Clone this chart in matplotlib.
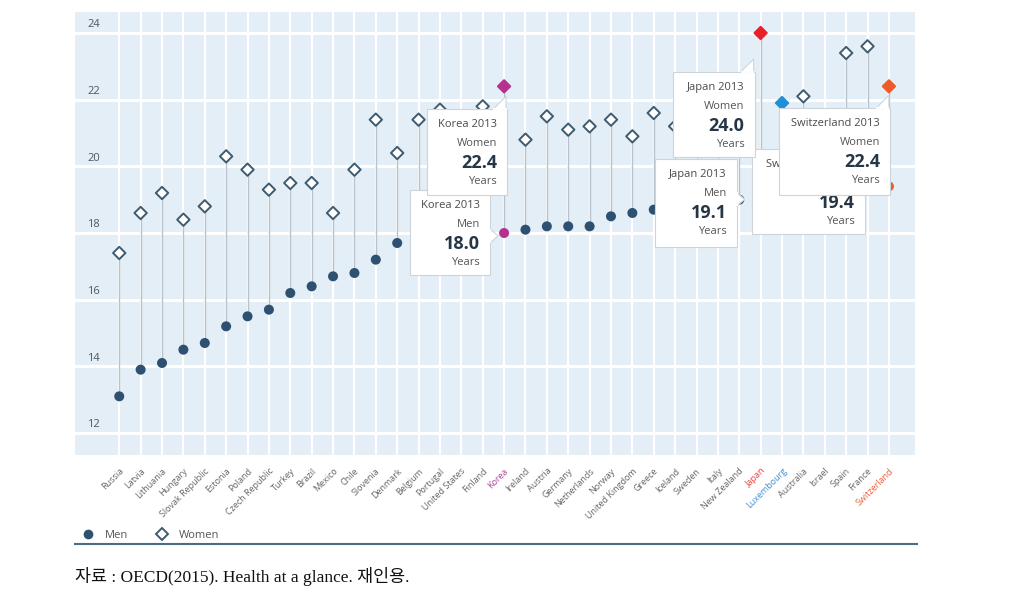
import matplotlib

matplotlib.use("Agg")
import matplotlib.pyplot as plt
from matplotlib.lines import Line2D
from matplotlib.patches import Polygon, Rectangle
from matplotlib.transforms import IdentityTransform, ScaledTranslation

COUNTRIES = [
    "Russia", "Latvia", "Lithuania", "Hungary", "Slovak Republic", "Estonia",
    "Poland", "Czech Republic", "Turkey", "Brazil", "Mexico", "Chile",
    "Slovenia", "Denmark", "Belgium", "Portugal", "United States", "Finland",
    "Korea", "Ireland", "Austria", "Germany", "Netherlands", "Norway",
    "United Kingdom", "Greece", "Iceland", "Sweden", "Italy", "New Zealand",
    "Japan", "Luxembourg", "Australia", "Israel", "Spain", "France", "Switzerland",
]
MEN = [
    13.1, 13.9, 14.1, 14.5, 14.7, 15.2, 15.5, 15.7, 16.2, 16.4, 16.7, 16.8,
    17.2, 17.7, 17.8, 17.9, 17.9, 17.9, 18.0, 18.1, 18.2, 18.2, 18.2, 18.5,
    18.6, 18.7, 18.8, 18.9, 18.9, 19.0, 19.1, 19.2, 19.3, 19.3, 19.4, 19.5, 19.4,
]
WOMEN = [
    17.4, 18.6, 19.2, 18.4, 18.8, 20.3, 19.9, 19.3, 19.5, 19.5, 18.6, 19.9,
    21.4, 20.4, 21.4, 21.7, 20.5, 21.8, 22.4, 20.8, 21.5, 21.1, 21.2, 21.4,
    20.9, 21.6, 21.2, 21.2, 22.3, 21.6, 24.0, 21.9, 22.1, 21.4, 23.4, 23.6, 22.4,
]
Y_TICKS = [12, 14, 16, 18, 20, 22, 24]

# highlighted countries: label colour, women marker colour, men marker colour
HIGHLIGHT = {
    "Korea": ("#b0449a", "#b5318f", "#b5318f"),
    "Japan": ("#e8413e", "#e8202a", None),
    "Luxembourg": ("#3f8fd4", "#1f8fd8", None),
    "Switzerland": ("#e8603c", "#f05a28", "#f05a28"),
}

# tooltip: country, series, box offset from point (left, right, top, bottom px, y down), pointer
TOOLTIPS = [
    ("Korea", "Men", (-94, -14, -43, 42), "right"),
    ("Japan", "Men", (-106, -24, -37, 51), "right"),
    ("Switzerland", "Men", (-137, -24, -37, 48), "right"),
    ("Korea", "Women", (-77, 3, 23, 109), "up"),
    ("Japan", "Women", (-88, -6, 39, 124), "up"),
    ("Switzerland", "Women", (-110, 1, 22, 109), "up"),
]

BG = "#e3eef7"
MEN_COLOR = "#2f5171"
WOMEN_EDGE = "#3e5b70"
STEM = "#b7c2ca"
TEXT = "#555555"

W, H = 1011, 609
plt.rcParams["font.family"] = ["Open Sans", "DejaVu Sans"]

fig = plt.figure(figsize=(W / 100, H / 100), dpi=100)
ax = fig.add_axes([75 / W, 1 - 455 / H, 840 / W, 443 / H])
ax.set_facecolor(BG)
for side in ax.spines.values():
    side.set_visible(False)

x = list(range(len(COUNTRIES)))
ax.set_xlim(-2.07, 37.22)
ax.set_ylim(11.34, 24.63)

ax.set_yticks(Y_TICKS)
ax.set_yticklabels([])
ax.tick_params(axis="y", length=0)
ax.yaxis.grid(True, color="white", linewidth=2.2)
ax.set_xticks(x)
ax.set_xticklabels(COUNTRIES, rotation=45, ha="right", va="center",
                   rotation_mode="anchor", fontsize=6.5, color="#666666")
ax.tick_params(axis="x", length=0, pad=10.5)
ax.xaxis.grid(True, color="white", linewidth=1.6)
ax.set_axisbelow(True)

shift = ScaledTranslation(3 / 100, 0, fig.dpi_scale_trans)
for lab in ax.get_xticklabels():
    lab.set_transform(lab.get_transform() + shift)
    if lab.get_text() in HIGHLIGHT:
        lab.set_color(HIGHLIGHT[lab.get_text()][0])

for v in Y_TICKS:
    ax.annotate(str(v), xy=(25 / 840, v), xycoords=("axes fraction", "data"),
                xytext=(0, 2), textcoords="offset points",
                ha="right", va="bottom", fontsize=8, color=TEXT)

ax.vlines(x, MEN, WOMEN, color=STEM, linewidth=1.0, zorder=2)

men_colors = [HIGHLIGHT.get(c, (None, None, None))[2] or MEN_COLOR for c in COUNTRIES]
women_faces = [HIGHLIGHT.get(c, (None, None, None))[1] or "white" for c in COUNTRIES]
women_edges = [HIGHLIGHT.get(c, (None, None, None))[1] or WOMEN_EDGE for c in COUNTRIES]
ax.scatter(x, MEN, s=52, c=men_colors, zorder=3, linewidths=0)
ax.scatter(x, WOMEN, s=40, marker="D", c=women_faces, edgecolors=women_edges,
           linewidths=1.4, zorder=3)

# tooltips in pixel space, each one stacked above the previous
ident = IdentityTransform()
for k, (country, series, (l, r, t, b), pointer) in enumerate(TOOLTIPS):
    z = 6 + 3 * k
    i = COUNTRIES.index(country)
    val = MEN[i] if series == "Men" else WOMEN[i]
    px, py = ax.transData.transform((i, val))
    left, right = px + l, px + r
    top, bottom = py - t, py - b
    box = Rectangle((left, bottom), right - left, top - bottom, transform=ident,
                    facecolor="white", edgecolor="#cdd5da", linewidth=0.8,
                    zorder=z, clip_on=False)
    fig.add_artist(box)
    if pointer == "right":
        cy = py - 3
        tri = [(right, cy + 7), (right + 8, cy), (right, cy - 7)]
        base = [(right, cy + 6), (right, cy - 6)]
    else:
        tri = [(right - 14, top), (right - 1, top + 13), (right - 1, top)]
        base = [(right - 13, top), (right - 1.5, top)]
    fig.add_artist(Polygon(tri, closed=True, transform=ident, facecolor="white",
                           edgecolor="#cdd5da", linewidth=0.8, zorder=z + 1))
    fig.add_artist(Line2D([p[0] for p in base], [p[1] for p in base], transform=ident,
                          color="white", linewidth=1.4, zorder=z + 1))
    tx = right - 10
    lines = [
        (f"{country} 2013", 15.5, 8, "normal", "#4a4a4a"),
        (series, 34.5, 8, "normal", TEXT),
        (f"{val:.1f}", 54, 13, "bold", "#263645"),
        ("Years", 72.5, 8, "normal", TEXT),
    ]
    for s, dy, fs, fw, col in lines:
        fig.text(tx, top - dy, s, transform=ident, ha="right", va="center",
                 fontsize=fs, fontweight=fw, color=col, zorder=z + 2)

handles = [
    Line2D([], [], marker="o", linestyle="none", markersize=7,
           markerfacecolor=MEN_COLOR, markeredgewidth=0),
    Line2D([], [], marker="D", linestyle="none", markersize=6.5,
           markerfacecolor="white", markeredgecolor=WOMEN_EDGE, markeredgewidth=1.4),
]
fig.legend(handles, ["Men", "Women"], loc="center left",
           bbox_to_anchor=(78 / W, 1 - 535 / H), ncol=2, frameon=False,
           fontsize=8, labelcolor=TEXT, handlelength=1.0, handletextpad=1.0,
           columnspacing=2.6, borderaxespad=0)

fig.add_artist(Line2D([75 / W, 917 / W], [1 - 544 / H] * 2, color="#4d6b80", linewidth=1.5))

fig.text(75 / W, 1 - 577 / H, "자료 : OECD(2015). Health at a glance. 재인용.",
         ha="left", va="center", fontsize=12.5, color="#111111",
         family=["Liberation Serif", "Noto Sans CJK KR"])

fig.savefig("out.png", dpi=100)
